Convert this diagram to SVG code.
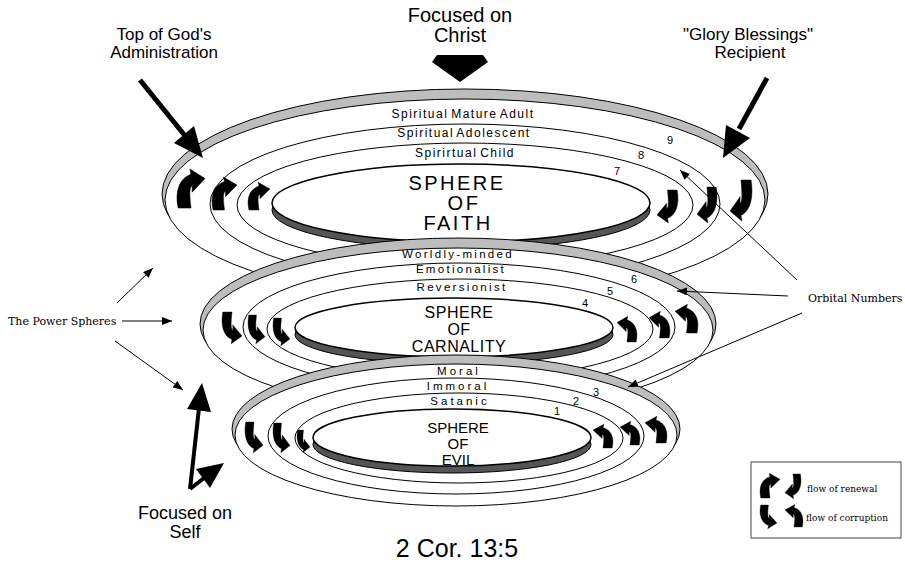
<svg xmlns="http://www.w3.org/2000/svg" xmlns:xlink="http://www.w3.org/1999/xlink" width="905" height="565" viewBox="0 0 905 565">
<style>
.rim{fill:#bdbdbd;stroke:#000;stroke-width:1}
.ring{fill:#fff;stroke:#000;stroke-width:1}
.core{fill:#fff;stroke:#000;stroke-width:1.5}
.shade{fill:#555;stroke:#000;stroke-width:1}
.sans{font-family:"Liberation Sans",Arial,sans-serif;fill:#000}
.serif{font-family:"DejaVu Serif","Liberation Serif",serif;fill:#000}
.band{font-size:12px;text-anchor:middle;letter-spacing:1.5px;word-spacing:-2px}
.band2{font-size:11.5px;text-anchor:middle;letter-spacing:2.3px}
.band3{font-size:11.5px;text-anchor:middle;letter-spacing:3px}
.num{font-size:11px;text-anchor:middle}
.title{text-anchor:middle}
.ptr{stroke:#000;stroke-width:1;fill:none;marker-end:url(#ah)}
.fat{stroke:#000;fill:none}
.head{fill:#000}
.flow{fill:#000;stroke:#000;stroke-width:0.5}
</style>
<defs>
<marker id="ah" markerUnits="userSpaceOnUse" markerWidth="10" markerHeight="8" refX="10" refY="4" orient="auto">
<path d="M0,0 L10,4 L0,8 Z" fill="#000"/>
</marker>
<path id="fA" d="M1,36 C-2,20 2,8 12,4 L11,-1 L24,8 L13,21 L13,15 C10,16 11,26 12,36 Z"/>
<path id="fB" d="M23,0 C26,16 22,28 12,32 L13,37 L0,28 L11,15 L11,21 C14,20 13,10 12,0 Z"/>
<path id="fC" d="M1,0 C-2,16 2,28 12,32 L11,37 L24,28 L13,15 L13,21 C10,20 11,10 12,0 Z"/>
<path id="fD" d="M23,36 C26,20 22,8 12,4 L13,-1 L0,8 L11,21 L11,15 C14,16 13,26 12,36 Z"/>
</defs>
<rect width="905" height="565" fill="#fff"/>

<g id="sphere-faith">
<ellipse class="rim" cx="465" cy="194" rx="303" ry="105"/>
<ellipse class="ring" cx="465" cy="200" rx="300" ry="101"/>
<ellipse class="ring" cx="465" cy="204" rx="255" ry="80"/>
<ellipse class="ring" cx="465" cy="205" rx="228" ry="62"/>
<ellipse class="shade" cx="461" cy="210" rx="189" ry="39"/>
<ellipse class="core" cx="461" cy="203" rx="189" ry="39"/>
<text class="sans band" x="463" y="118">Spiritual Mature Adult</text>
<text class="sans band" x="464" y="137">Spiritual Adolescent</text>
<text class="sans band" x="465" y="157">Spirirtual Child</text>
<text class="sans title" font-size="20" letter-spacing="2.5" x="457" y="190">SPHERE</text>
<text class="sans title" font-size="20" letter-spacing="2.5" x="464" y="210">OF</text>
<text class="sans title" font-size="20" letter-spacing="2.5" x="458" y="230">FAITH</text>
<text class="sans num" x="670" y="144">9</text>
<text class="sans num" x="641" y="159">8</text>
<text class="sans num" x="617" y="175">7</text>
<g class="flow">
<use href="#fA" transform="translate(177,170) scale(1.167,1.056)"/>
<use href="#fA" transform="translate(212,178) scale(1.042,0.889)"/>
<use href="#fA" transform="translate(248,183) scale(0.917,0.75)"/>
<use href="#fB" transform="translate(657,190) scale(0.875,0.889)"/>
<use href="#fB" transform="translate(697,187) scale(0.833,0.972)"/>
<use href="#fB" transform="translate(730,180) scale(0.917,1.111)"/>
</g>
</g>

<g id="sphere-carnality">
<ellipse class="rim" cx="458" cy="324" rx="258" ry="86"/>
<ellipse class="ring" cx="458" cy="330" rx="255" ry="82"/>
<ellipse class="ring" cx="459" cy="327" rx="216" ry="64"/>
<ellipse class="ring" cx="460" cy="329" rx="193" ry="50"/>
<ellipse class="shade" cx="454" cy="334.5" rx="159" ry="29.5"/>
<ellipse class="core" cx="454" cy="327.5" rx="159" ry="29.5"/>
<text class="sans band2" x="458" y="258">Worldly-minded</text>
<text class="sans band2" x="461" y="273">Emotionalist</text>
<text class="sans band2" x="462" y="291">Reversionist</text>
<text class="sans title" font-size="16" letter-spacing="0.5" x="459" y="318">SPHERE</text>
<text class="sans title" font-size="16" letter-spacing="0.5" x="459" y="335">OF</text>
<text class="sans title" font-size="16" letter-spacing="0.5" x="459" y="352">CARNALITY</text>
<text class="sans num" x="634" y="283">6</text>
<text class="sans num" x="610" y="295">5</text>
<text class="sans num" x="585" y="307">4</text>
<g class="flow">
<use href="#fC" transform="translate(222,312) scale(0.833,0.861)"/>
<use href="#fC" transform="translate(248,315) scale(0.708,0.778)"/>
<use href="#fC" transform="translate(273,318) scale(0.708,0.75)"/>
<use href="#fD" transform="translate(617,317) scale(0.833,0.694)"/>
<use href="#fD" transform="translate(649,312) scale(0.875,0.722)"/>
<use href="#fD" transform="translate(675,305) scale(0.958,0.778)"/>
</g>
</g>

<g id="sphere-evil">
<ellipse class="rim" cx="456" cy="429" rx="224" ry="74"/>
<ellipse class="ring" cx="456" cy="435" rx="221" ry="71"/>
<ellipse class="ring" cx="456" cy="436" rx="188" ry="58"/>
<ellipse class="ring" cx="459" cy="438" rx="164" ry="45"/>
<ellipse class="shade" cx="452" cy="444.5" rx="139" ry="28.5"/>
<ellipse class="core" cx="452" cy="437.5" rx="139" ry="28.5"/>
<text class="sans band3" x="459" y="375" letter-spacing="4.2">Moral</text>
<text class="sans band3" x="458" y="390">Immoral</text>
<text class="sans band3" x="460" y="405">Satanic</text>
<text class="sans title" font-size="15" x="458" y="433">SPHERE</text>
<text class="sans title" font-size="15" x="458" y="449">OF</text>
<text class="sans title" font-size="15" x="458" y="465">EVIL</text>
<text class="sans num" x="596" y="396">3</text>
<text class="sans num" x="576" y="405">2</text>
<text class="sans num" x="557" y="415">1</text>
<g class="flow">
<use href="#fC" transform="translate(245,422) scale(0.75,0.833)"/>
<use href="#fC" transform="translate(273,423) scale(0.708,0.806)"/>
<use href="#fC" transform="translate(297,430) scale(0.542,0.611)"/>
<use href="#fD" transform="translate(593,425) scale(0.833,0.639)"/>
<use href="#fD" transform="translate(620,422) scale(0.833,0.639)"/>
<use href="#fD" transform="translate(645,417) scale(0.917,0.722)"/>
</g>
</g>

<g id="connectors">
<line class="fat" stroke-width="5" x1="140" y1="80" x2="186" y2="137"/>
<polygon class="head" points="203,158 174,143 194,126"/>
<line class="fat" stroke-width="5" x1="767" y1="78" x2="739" y2="129"/>
<polygon class="head" points="723,158 726,125 750,138"/>
<polygon class="head" points="437,55 483,55 488,62 460,82 432,62"/>
<line class="fat" stroke-width="4" x1="190" y1="489" x2="199" y2="408"/>
<polygon class="head" points="202,383 211,412 187,409"/>
<line class="fat" stroke-width="4" x1="190" y1="489" x2="204" y2="478"/>
<polygon class="head" points="224,463 210,488 196,469"/>
<line class="ptr" x1="117" y1="303" x2="153" y2="268"/>
<line class="ptr" x1="122" y1="321" x2="172" y2="321"/>
<line class="ptr" x1="115" y1="341" x2="183" y2="390"/>
<line class="ptr" x1="797" y1="280" x2="680" y2="170"/>
<line class="ptr" x1="788" y1="296" x2="677" y2="291"/>
<line class="ptr" x1="802" y1="313" x2="628" y2="387"/>
</g>

<g id="label-christ"><text class="sans title" font-size="20" x="460" y="22">Focused on</text><text class="sans title" font-size="20" x="460" y="42">Christ</text></g>
<g id="label-top"><text class="sans title" font-size="17" x="164" y="40">Top of God's</text><text class="sans title" font-size="17" x="164" y="58">Administration</text></g>
<g id="label-glory"><text class="sans title" font-size="17" x="748" y="40">"Glory Blessings"</text><text class="sans title" font-size="17" x="750" y="58">Recipient</text></g>
<g id="label-self"><text class="sans title" font-size="18" x="185" y="519">Focused on</text><text class="sans title" font-size="18" x="185" y="538">Self</text></g>
<g id="label-power"><text class="serif" font-size="11" x="8" y="325">The Power Spheres</text></g>
<g id="label-orbital"><text class="serif" font-size="11" x="808" y="302">Orbital Numbers</text></g>
<g id="label-verse"><text class="sans title" font-size="25" x="457" y="557">2 Cor. 13:5</text></g>

<g id="legend">
<rect x="751" y="462" width="150" height="76" fill="#fff" stroke="#444" stroke-width="1"/>
<g class="flow">
<use href="#fA" transform="translate(760,474) scale(0.833,0.667)"/>
<use href="#fB" transform="translate(785,474) scale(0.667,0.667)"/>
<use href="#fC" transform="translate(760,505) scale(0.708,0.639)"/>
<use href="#fD" transform="translate(785,505) scale(0.75,0.611)"/>
</g>
<text class="serif" font-size="9" x="807" y="492">flow of renewal</text>
<text class="serif" font-size="9" x="806" y="521">flow of corruption</text>
</g>
</svg>
